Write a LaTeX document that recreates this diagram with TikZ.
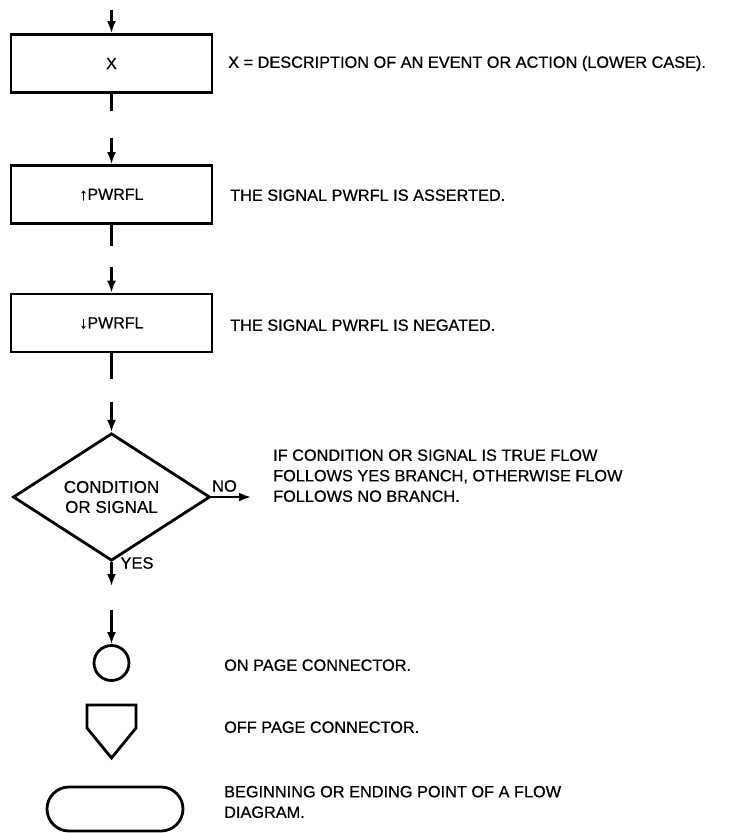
\documentclass[tikz,border=0pt]{standalone}
\usepackage{fontspec}
\setmainfont{Liberation Sans}[FakeBold=0.6]
\usetikzlibrary{arrows.meta,shapes.geometric}
\begin{document}
\begin{tikzpicture}[x=1pt,y=-1pt,
  box/.style={draw,line width=2.8pt,minimum width=201pt,minimum height=58pt,inner sep=0pt,font=\fontsize{16}{20}\selectfont},
  shp/.style={draw,line width=2.8pt},
  flow/.style={line width=2.2pt},
  arr/.style={line width=2.2pt,-{Latex[length=12pt,width=9pt]}},
  desc/.style={anchor=west,align=left,inner sep=0pt,font=\fontsize{16.3}{20.5}\selectfont,text height=11.6pt,text depth=0pt},
  lab/.style={inner sep=0pt,font=\fontsize{16.5}{20}\selectfont},
]
\useasboundingbox (0,0) rectangle (738,833);

% process boxes
\node[box] (b1) at (111.5,63.5) {X};
\node[box] (b2) at (111.5,194.5) {↑PWRFL};
\node[box] (b3) at (111.5,323) {↓PWRFL};

% decision
\node[shp,diamond,minimum width=197pt,minimum height=113pt,inner sep=0pt,align=center,font=\fontsize{17}{20}\selectfont] (d) at (111.5,497) {CONDITION\\OR SIGNAL};

% on page connector
\node[shp,circle,minimum size=35pt,inner sep=0pt] (c) at (111.5,663) {};

% off page connector
\draw[shp,line join=miter] (87,705) -- (136,705) -- (136,728) -- (111.5,758) -- (87,728) -- cycle;

% terminal
\draw[shp,rounded corners=22pt] (47,787) rectangle (183,831);

% connectors
\coordinate (a0) at (111.5,10);
\coordinate (l1) at (111.5,111);
\coordinate (a1) at (111.5,138);
\coordinate (l2) at (111.5,246);
\coordinate (a2) at (111.5,267);
\coordinate (l3) at (111.5,379);
\coordinate (a3) at (111.5,402);
\coordinate (no) at (251,497);
\coordinate (yes) at (111.5,586);
\coordinate (a4) at (111.5,610);

\draw[arr] (a0) -- (b1.north);
\draw[flow] (b1.south) -- (l1);
\draw[arr] (a1) -- (b2.north);
\draw[flow] (b2.south) -- (l2);
\draw[arr] (a2) -- (b3.north);
\draw[flow] (b3.south) -- (l3);
\draw[arr] (a3) -- (d.north);
\draw[arr] (d.east) -- (no);
\draw[arr] (d.south) -- (yes);
\draw[arr] (a4) -- (c.north);

\node[lab] (nol) at (224.5,486) {NO};
\node[lab] (yesl) at (137,563) {YES};

% descriptions
\node[desc] (t1) at (228,62) {X = DESCRIPTION OF AN EVENT OR ACTION (LOWER CASE).};
\node[desc] (t2) at (230,195) {THE SIGNAL PWRFL IS ASSERTED.};
\node[desc] (t3) at (230,325) {THE SIGNAL PWRFL IS NEGATED.};
\node[desc] (t4) at (273,496) {IF CONDITION OR SIGNAL IS TRUE FLOW\\FOLLOWS YES BRANCH, OTHERWISE FLOW\\FOLLOWS NO BRANCH.};
\node[desc] (t5) at (224,665) {ON PAGE CONNECTOR.};
\node[desc] (t6) at (224,727) {OFF PAGE CONNECTOR.};
\node[desc] (t7) at (224,812) {BEGINNING OR ENDING POINT OF A FLOW\\DIAGRAM.};
\end{tikzpicture}
\end{document}
